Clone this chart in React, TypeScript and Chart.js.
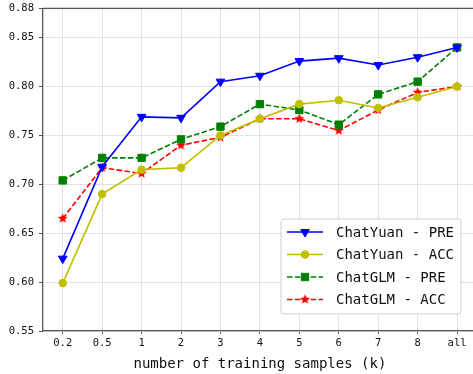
import React, { useEffect, useRef } from "react";
import { Chart, registerables } from "chart.js";
import { drawPoint } from "chart.js/helpers";
Chart.register(...registerables);

const categories = ["0.2", "0.5", "1", "2", "3", "4", "5", "6", "7", "8", "all"];
const chatYuanPre = [0.624, 0.718, 0.769, 0.768, 0.805, 0.811, 0.826, 0.829, 0.822, 0.83, 0.84];
const chatYuanAcc = [0.599, 0.69, 0.715, 0.717, 0.75, 0.767, 0.782, 0.786, 0.778, 0.789, 0.8];
const chatGlmPre = [0.704, 0.727, 0.727, 0.746, 0.759, 0.782, 0.776, 0.761, 0.792, 0.805, 0.84];
const chatGlmAcc = [0.665, 0.717, 0.711, 0.74, 0.748, 0.767, 0.767, 0.755, 0.776, 0.794, 0.8];
const yTicks = [0.55, 0.6, 0.65, 0.7, 0.75, 0.8, 0.85, 0.88];
const seriesLabels = ["ChatYuan - PRE", "ChatYuan - ACC", "ChatGLM - PRE", "ChatGLM - ACC"];
const xTitle = "number of training samples (k)";

const MONO = "'DejaVu Sans Mono', 'Liberation Mono', monospace";
const SPINE = "#555555";
const GRID = "#e2e2e2";
const CANVAS_W = 483;
const CANVAS_H = 377;
const SHIFT = 3;

function makeStar(color: string, r: number) {
  const size = Math.ceil(r * 2 + 2);
  const c = document.createElement("canvas");
  c.width = size;
  c.height = size;
  const ctx = c.getContext("2d")!;
  const cx = size / 2;
  const cy = size / 2;
  const inner = r * 0.45;
  ctx.beginPath();
  for (let i = 0; i < 10; i++) {
    const rr = i % 2 === 0 ? r : inner;
    const a = -Math.PI / 2 + (i * Math.PI) / 5;
    ctx.lineTo(cx + rr * Math.cos(a), cy + rr * Math.sin(a));
  }
  ctx.closePath();
  ctx.fillStyle = color;
  ctx.fill();
  return c;
}

const framePlugin = {
  id: "frame",
  afterDraw(chart: any) {
    const { ctx, chartArea } = chart;
    ctx.save();
    ctx.strokeStyle = SPINE;
    ctx.lineWidth = 1.3;
    ctx.beginPath();
    ctx.moveTo(chartArea.left, chartArea.top);
    ctx.lineTo(chartArea.right, chartArea.top);
    ctx.stroke();
    ctx.restore();
  },
};

const legendPlugin = {
  id: "customLegend",
  afterDatasetsDraw(chart: any) {
    const ctx = chart.ctx;
    const x0 = 281, y0 = 219 + SHIFT, w = 180, h = 95;
    ctx.save();
    ctx.beginPath();
    const r = 3;
    ctx.moveTo(x0 + r, y0);
    ctx.arcTo(x0 + w, y0, x0 + w, y0 + h, r);
    ctx.arcTo(x0 + w, y0 + h, x0, y0 + h, r);
    ctx.arcTo(x0, y0 + h, x0, y0, r);
    ctx.arcTo(x0, y0, x0 + w, y0, r);
    ctx.closePath();
    ctx.fillStyle = "rgba(255,255,255,0.85)";
    ctx.fill();
    ctx.strokeStyle = "#d0d0d0";
    ctx.lineWidth = 1;
    ctx.stroke();
    const rows = [232, 254.5, 277, 299.5].map((v) => v + SHIFT);
    chart.data.datasets.forEach((ds: any, i: number) => {
      const y = rows[i];
      ctx.save();
      ctx.strokeStyle = ds.borderColor;
      ctx.lineWidth = ds.borderWidth;
      ctx.setLineDash(ds.borderDash || []);
      ctx.beginPath();
      ctx.moveTo(287, y);
      ctx.lineTo(323, y);
      ctx.stroke();
      ctx.setLineDash([]);
      ctx.fillStyle = ds.pointBackgroundColor;
      ctx.strokeStyle = ds.pointBorderColor;
      ctx.lineWidth = 1;
      drawPoint(ctx, { pointStyle: ds.pointStyle, rotation: ds.pointRotation || 0, radius: ds.pointRadius, borderWidth: 1 } as any, 305, y);
      ctx.restore();
      ctx.fillStyle = "#111";
      ctx.font = `14px ${MONO}`;
      ctx.textAlign = "left";
      ctx.textBaseline = "middle";
      ctx.fillText(seriesLabels[i], 336, y + 1);
    });
    ctx.restore();
  },
};

export default function App() {
  const ref = useRef<HTMLCanvasElement | null>(null);
  useEffect(() => {
    document.body.style.margin = "0";
    const star = makeStar("#ff0000", 5.2);
    const mk = (label: string, data: number[], color: string, style: any, radius: number, dash: number[] | undefined, rot = 0) => ({
      label,
      data,
      borderColor: color,
      backgroundColor: color,
      pointBackgroundColor: color,
      pointBorderColor: color,
      pointBorderWidth: 1,
      borderWidth: 1.6,
      borderDash: dash,
      pointStyle: style,
      pointRotation: rot,
      pointRadius: radius,
      tension: 0,
      fill: false,
    });
    const chart = new Chart(ref.current!, {
      type: "line",
      data: {
        labels: categories,
        datasets: [
          mk(seriesLabels[0], chatYuanPre, "#0000ff", "triangle", 5, undefined, 180),
          mk(seriesLabels[1], chatYuanAcc, "#bfbf00", "circle", 3.8, undefined),
          mk(seriesLabels[2], chatGlmPre, "#008000", "rect", 5.2, [5.5, 2.4]),
          mk(seriesLabels[3], chatGlmAcc, "#ff0000", star, 5.2, [5.5, 2.4]),
        ] as any,
      },
      plugins: [framePlugin, legendPlugin],
      options: {
        animation: false,
        responsive: false,
        devicePixelRatio: 1,
        layout: { padding: { top: 5, left: 0, right: 0, bottom: 0 } },
        plugins: { legend: { display: false }, tooltip: { enabled: false } },
        scales: {
          x: {
            type: "category",
            offset: true,
            afterFit: (s: any) => {
              s.height = 43;
            },
            grid: { offset: false, color: GRID, lineWidth: 1, tickLength: 3, tickColor: SPINE, drawTicks: true },
            border: { color: SPINE, width: 1.3 },
            ticks: { font: { family: MONO, size: 10.5 }, color: "#111", padding: 3, maxRotation: 0, autoSkip: false },
            title: { display: true, text: xTitle, font: { family: MONO, size: 14 }, color: "#111", padding: { top: 0, bottom: 1 } },
          },
          y: {
            min: 0.55,
            max: 0.88,
            afterFit: (s: any) => {
              s.width = 43;
            },
            afterBuildTicks: (s: any) => {
              s.ticks = yTicks.map((v) => ({ value: v }));
            },
            grid: { color: GRID, lineWidth: 1, tickLength: 4, tickColor: SPINE },
            border: { color: SPINE, width: 1.3 },
            ticks: {
              font: { family: MONO, size: 10.5 },
              color: "#111",
              padding: 5,
              callback: (v: any) => Number(v).toFixed(2),
            },
          },
        },
      },
    });
    return () => chart.destroy();
  }, []);
  return (
    <div style={{ position: "absolute", left: 0, top: 0, width: 473, height: 374, overflow: "hidden", background: "#fff" }}>
      <canvas
        ref={ref}
        width={CANVAS_W}
        height={CANVAS_H}
        style={{ width: CANVAS_W, height: CANVAS_H, display: "block", marginTop: -SHIFT }}
      />
    </div>
  );
}
